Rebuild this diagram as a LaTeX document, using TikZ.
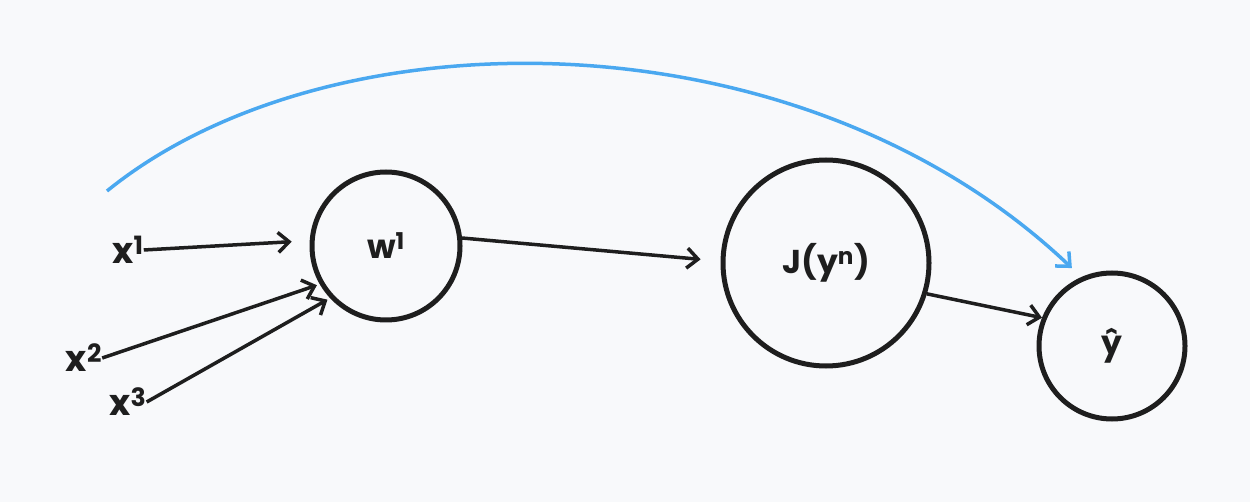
\documentclass[tikz,border=0pt]{standalone}
\usepackage{fontspec}
\setmainfont{Poppins}
\usetikzlibrary{arrows.meta}
\definecolor{bgc}{HTML}{F8F9FB}
\definecolor{skyblue}{HTML}{4AA8F0}
\definecolor{ink}{HTML}{1E1E1E}
\tikzset{
  neuron/.style={circle, draw=ink, line width=5pt, inner sep=0pt, font=\fontsize{33}{36}\selectfont\bfseries, text=ink},
  lbl/.style={inner sep=0pt, font=\fontsize{36}{40}\selectfont\bfseries, text=ink},
  link/.style={draw=ink, line width=3.5pt, -{Straight Barb[length=11pt,width=20pt,line width=3.5pt]}},
  skip/.style={draw=skyblue, line width=3.5pt, -{Straight Barb[length=11pt,width=20pt,line width=3.5pt]}}
}
\begin{document}
\begin{tikzpicture}[x=1pt,y=-1pt]
\fill[bgc] (0,0) rectangle (1250,502);
\useasboundingbox (0,0) rectangle (1250,502);
\node[neuron, minimum size=148pt] (w) at (386,246) {w\textsuperscript{1}};
\node[neuron, minimum size=206pt] (J) at (826,263) {J(y\textsuperscript{n})};
\node[neuron, minimum size=146pt] (yh) at (1112,346) {ŷ};
\node[lbl] (x1) at (128,250) {x\textsuperscript{1}};
\node[lbl] (x2) at (84,358) {x\textsuperscript{2}};
\node[lbl] (x3) at (128,402) {x\textsuperscript{3}};
\coordinate (s) at (107,191);
\draw[link, shorten >=18pt] (x1.east) -- (w.176);
\draw[link, shorten >=3pt] (x2.east) -- (w.210);
\draw[link, shorten >=3pt] (x3.east) -- (w.223);
\draw[link, shorten >=20pt] (w.6) -- (J.179);
\draw[link] (J.343) -- (yh.158);
\draw[skip, shorten >=13pt] (s) .. controls (330,10) and (800,10) .. (yh.114);
\end{tikzpicture}
\end{document}
